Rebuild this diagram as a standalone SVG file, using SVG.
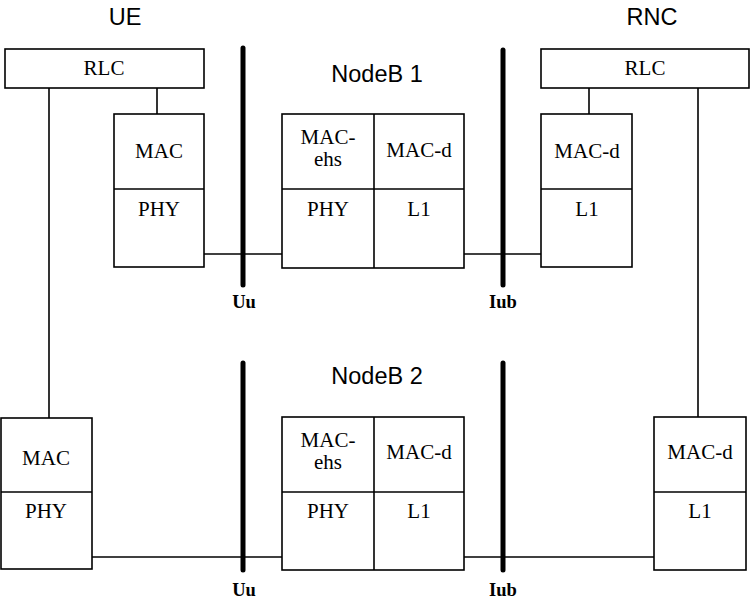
<svg xmlns="http://www.w3.org/2000/svg" width="751" height="600" viewBox="0 0 751 600">
<style>
.box{fill:#fff;stroke:#000;stroke-width:1.6}
.ln{stroke:#000;stroke-width:1.6;fill:none}
.bar{stroke:#000;stroke-width:5;stroke-linecap:round}
.t{font-family:"Liberation Serif",serif;font-size:21px;text-anchor:middle;fill:#000}
.h{font-family:"Liberation Sans",Arial,sans-serif;font-size:23.5px;text-anchor:middle;fill:#000}
.b{font-family:"Liberation Serif",serif;font-size:18.5px;font-weight:bold;text-anchor:middle;fill:#000}
</style>
<rect width="751" height="600" fill="#fff"/>
<g id="connectors">
<line class="ln" x1="49" y1="88" x2="49" y2="418"/>
<line class="ln" x1="157" y1="88" x2="157" y2="114"/>
<line class="ln" x1="589" y1="88" x2="589" y2="114"/>
<line class="ln" x1="698" y1="88" x2="698" y2="417"/>
<line class="ln" x1="204" y1="254" x2="282" y2="254"/>
<line class="ln" x1="464" y1="254" x2="541" y2="254"/>
<line class="ln" x1="92" y1="557" x2="282" y2="557"/>
<line class="ln" x1="464" y1="557" x2="654" y2="557"/>
</g>
<g id="interfaces">
<line class="bar" x1="243" y1="48" x2="243" y2="285"/>
<line class="bar" x1="503" y1="50" x2="503" y2="285"/>
<line class="bar" x1="243" y1="363" x2="243" y2="570"/>
<line class="bar" x1="503" y1="363" x2="503" y2="570"/>
<text class="b" x="244" y="308">Uu</text>
<text class="b" x="503" y="308">Iub</text>
<text class="b" x="244" y="596">Uu</text>
<text class="b" x="503" y="596">Iub</text>
</g>
<g id="titles">
<text class="h" x="125" y="25">UE</text>
<text class="h" x="652" y="25">RNC</text>
<text class="h" x="377" y="82">NodeB 1</text>
<text class="h" x="377" y="384">NodeB 2</text>
</g>
<g id="ue-rlc">
<rect class="box" x="5" y="49" width="199" height="39"/>
<text class="t" x="104" y="75">RLC</text>
</g>
<g id="ue-stack1">
<rect class="box" x="114" y="114" width="90" height="153"/>
<line class="ln" x1="114" y1="189" x2="204" y2="189"/>
<text class="t" x="159" y="158">MAC</text>
<text class="t" x="159" y="216">PHY</text>
</g>
<g id="nodeb1">
<rect class="box" x="282" y="114" width="182" height="154"/>
<line class="ln" x1="374" y1="114" x2="374" y2="268"/>
<line class="ln" x1="282" y1="189" x2="464" y2="189"/>
<text class="t" x="328" y="144">MAC-</text>
<text class="t" x="328" y="166">ehs</text>
<text class="t" x="419" y="157">MAC-d</text>
<text class="t" x="328" y="216">PHY</text>
<text class="t" x="419" y="216">L1</text>
</g>
<g id="rnc-rlc">
<rect class="box" x="541" y="49" width="208" height="39"/>
<text class="t" x="645" y="75">RLC</text>
</g>
<g id="rnc-stack1">
<rect class="box" x="541" y="114" width="91" height="153"/>
<line class="ln" x1="541" y1="189" x2="632" y2="189"/>
<text class="t" x="587" y="158">MAC-d</text>
<text class="t" x="587" y="216">L1</text>
</g>
<g id="ue-stack2">
<rect class="box" x="1" y="418" width="91" height="151"/>
<line class="ln" x1="1" y1="492" x2="92" y2="492"/>
<text class="t" x="46" y="465">MAC</text>
<text class="t" x="46" y="518">PHY</text>
</g>
<g id="nodeb2">
<rect class="box" x="282" y="417" width="182" height="153"/>
<line class="ln" x1="374" y1="417" x2="374" y2="570"/>
<line class="ln" x1="282" y1="492" x2="464" y2="492"/>
<text class="t" x="328" y="447">MAC-</text>
<text class="t" x="328" y="469">ehs</text>
<text class="t" x="419" y="459">MAC-d</text>
<text class="t" x="328" y="518">PHY</text>
<text class="t" x="419" y="518">L1</text>
</g>
<g id="rnc-stack2">
<rect class="box" x="654" y="417" width="92" height="153"/>
<line class="ln" x1="654" y1="492" x2="746" y2="492"/>
<text class="t" x="700" y="459">MAC-d</text>
<text class="t" x="700" y="518">L1</text>
</g>
</svg>
